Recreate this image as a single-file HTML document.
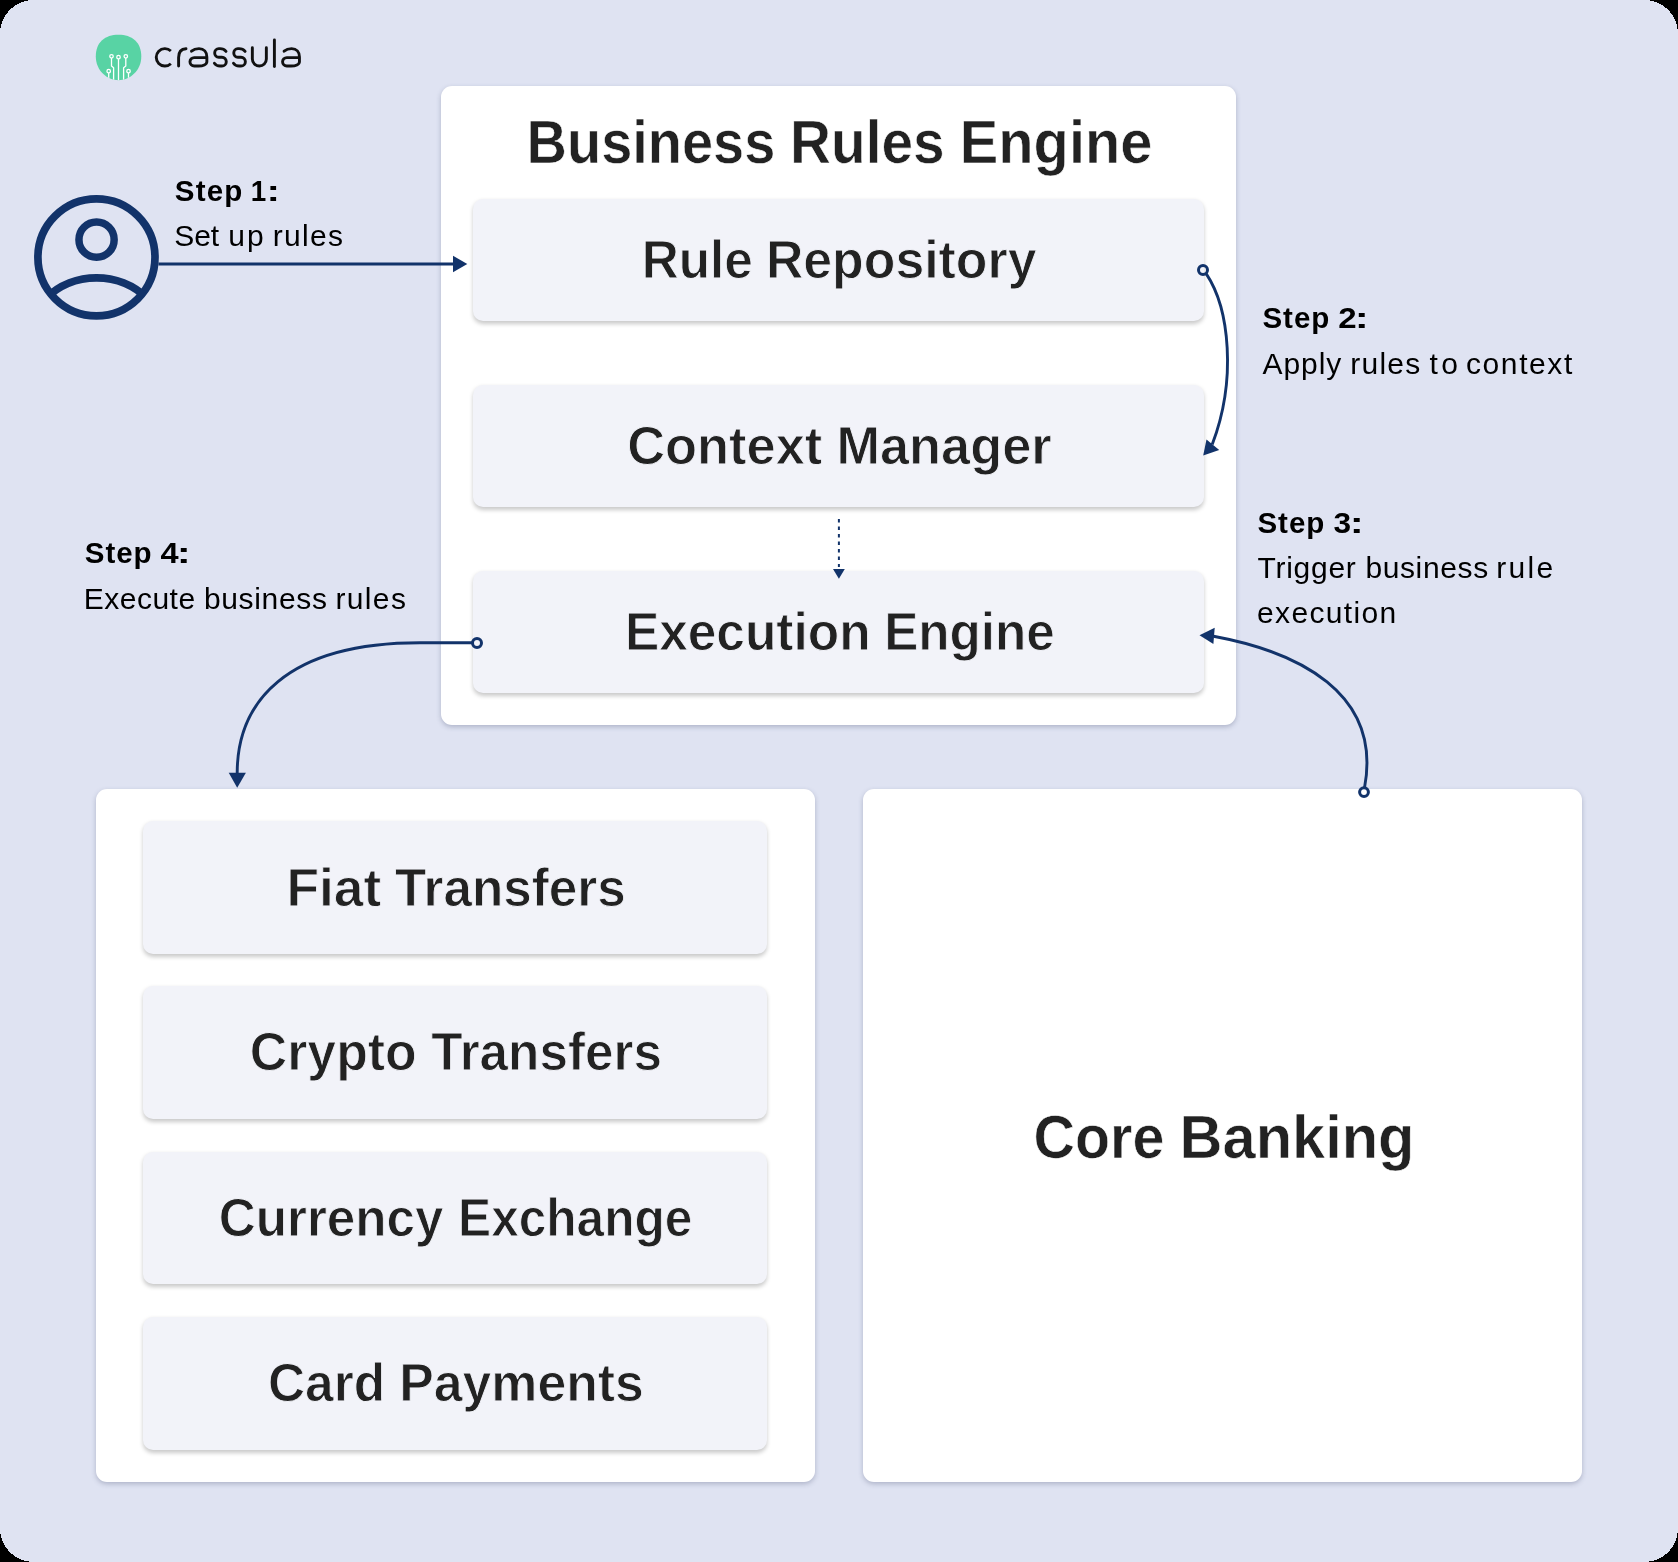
<!DOCTYPE html>
<html>
<head>
<meta charset="utf-8">
<title>Business Rules Engine</title>
<style>
  html, body { margin: 0; padding: 0; background: #000; }
  body { width: 1678px; height: 1562px; overflow: hidden; font-family: "Liberation Sans", sans-serif; }
  #page { position: absolute; left: 0; top: 0; width: 1678px; height: 1562px; overflow: hidden; }
  .panel { position: absolute; background: #fff; border-radius: 11px; box-shadow: 0 2px 5px rgba(70, 80, 115, 0.32); }
  .box { position: absolute; background: #f2f3f9; border-radius: 10px; box-shadow: 0 2.5px 4.5px rgba(0, 0, 0, 0.21); }
  #p-top { left: 441.2px; top: 86px; width: 795px; height: 639px; }
  #p-left { left: 96px; top: 789px; width: 719px; height: 693px; }
  #p-right { left: 863px; top: 789px; width: 719px; height: 693px; }
  .tb { left: 473.2px; width: 731.3px; height: 122px; }
  .lb { left: 143px; width: 624px; height: 132.5px; }
  svg { position: absolute; left: 0; top: 0; will-change: transform; }
  text { font-family: "Liberation Sans", sans-serif; }
  .h { font-weight: bold; fill: #222222; stroke: #f2f3f9; stroke-width: 0.9px; }
  .hw { font-weight: bold; fill: #222222; stroke: #ffffff; stroke-width: 0.6px; }
  .sb { font-weight: bold; fill: #000; }
  .sr { font-weight: normal; fill: #000; }
  .nv { stroke: #12336a; fill: none; }
  .nf { fill: #12336a; stroke: none; }
</style>
</head>
<body>
<div id="page">
  <svg id="bg" width="1678" height="1562" viewBox="0 0 1678 1562" style="will-change:auto"><rect x="0" y="0" width="1678" height="1562" rx="33.6" ry="33.6" fill="#dfe3f2" shape-rendering="crispEdges"/></svg>
  <div class="panel" id="p-top"></div>
  <div class="panel" id="p-left"></div>
  <div class="panel" id="p-right"></div>

  <div class="box tb" style="top:199px"></div>
  <div class="box tb" style="top:385px"></div>
  <div class="box tb" style="top:571px"></div>

  <div class="box lb" style="top:821px"></div>
  <div class="box lb" style="top:986.3px"></div>
  <div class="box lb" style="top:1151.7px"></div>
  <div class="box lb" style="top:1317px"></div>

  <svg id="art" width="1678" height="1562" viewBox="0 0 1678 1562">
    <defs>
      <clipPath id="uclip"><circle cx="96.45" cy="257.35" r="60"/></clipPath>
      <clipPath id="lclip"><path d="M118.5,34.7 C132,34.7 141.3,42 141.3,56.5 C141.3,70.5 130,80.2 118.5,80.2 C107,80.2 95.8,70.5 95.8,56.5 C95.8,42 105,34.7 118.5,34.7 Z"/></clipPath>
    </defs>

    <!-- logo mark -->
    <g id="logo-mark">
      <path fill="#58d3a4" d="M118.5,34.7 C132,34.7 141.3,42 141.3,56.5 C141.3,70.5 130,80.2 118.5,80.2 C107,80.2 95.8,70.5 95.8,56.5 C95.8,42 105,34.7 118.5,34.7 Z"/>
      <g clip-path="url(#lclip)" fill="none" stroke="#fff" stroke-width="1.3" stroke-linejoin="round">
        <circle cx="118.5" cy="57.2" r="1.75"/>
        <path d="M118.5,59 V81"/>
        <circle cx="111.5" cy="56.35" r="1.75"/>
        <path d="M111.5,58.1 V66 L113.6,67.7 V81"/>
        <circle cx="125.8" cy="56.35" r="1.75"/>
        <path d="M125.8,58.1 V66 L123.6,67.7 V81"/>
        <circle cx="108.7" cy="71.2" r="1.75"/>
        <path d="M108.7,73 V81"/>
        <circle cx="128.5" cy="71.2" r="1.75"/>
        <path d="M128.5,73 V81"/>
      </g>
    </g>

    <!-- logo word: crassula -->
    <g id="logo-word" fill="none" stroke="#111" stroke-width="2.9" stroke-linecap="round" stroke-linejoin="round">
      <path stroke-linecap="butt" d="M170.85,50.96 A8.7,8.7 0 1 0 170.85,63.74"/>
      <path d="M178.6,66.1 V57.5 C178.6,52 181.5,48.9 186,48.7"/>
      <g id="la">
        <path d="M191.5,51.2 C193.5,49.5 196,48.65 199,48.65 C204,48.65 206.85,52 206.85,57 V61.8 C206.85,64.5 203,66.05 198.5,66.05 H194.2 A4.22,4.22 0 0 1 194.2,57.6 H206.85"/>
      </g>
      <g id="ls">
        <path d="M226,51.4 C224.6,49.6 222.6,48.65 220,48.65 H218.8 A4.33,4.33 0 0 0 218.8,57.3 H221.9 A4.37,4.37 0 0 1 221.9,66.05 H220 C217.5,66.05 215.6,65 214.4,63.2"/>
      </g>
      <g transform="translate(19.1,0)"><path d="M226,51.4 C224.6,49.6 222.6,48.65 220,48.65 H218.8 A4.33,4.33 0 0 0 218.8,57.3 H221.9 A4.37,4.37 0 0 1 221.9,66.05 H220 C217.5,66.05 215.6,65 214.4,63.2"/></g>
      <path d="M252.35,47.8 V59 A7,7 0 0 0 266.35,59 V47.8"/>
      <path d="M274.4,40 V66.6"/>
      <g transform="translate(92.6,0)"><path d="M191.5,51.2 C193.5,49.5 196,48.65 199,48.65 C204,48.65 206.85,52 206.85,57 V61.8 C206.85,64.5 203,66.05 198.5,66.05 H194.2 A4.22,4.22 0 0 1 194.2,57.6 H206.85"/></g>
    </g>

    <!-- user icon -->
    <g id="user" class="nv" stroke-width="7.7">
      <circle cx="96.45" cy="257.35" r="58.55"/>
      <circle cx="96.55" cy="239.65" r="17.6" stroke-width="7.5"/>
      <circle cx="96.5" cy="351.1" r="73.3" clip-path="url(#uclip)"/>
    </g>

    <!-- step 1 arrow -->
    <path class="nv" stroke-width="2.8" d="M158.5,264 H455"/>
    <path class="nf" d="M453,255.8 L467.3,264 L453,272.2 Z"/>

    <!-- step 2 arrow -->
    <circle class="nv" stroke-width="3" cx="1203" cy="270" r="4.5"/>
    <path class="nv" stroke-width="2.9" d="M1206.3,273.9 C1229.4,308.5 1236.9,379.6 1212.2,444.6"/>
    <path class="nf" d="M1203.2,455.6 L1206.5,439.4 L1219.2,450 Z"/>

    <!-- dashed arrow -->
    <path class="nv" stroke-width="2" stroke-dasharray="3.6 3.9" d="M838.9,519 V567"/>
    <path class="nf" d="M833,568.9 H844.8 L838.9,578.8 Z"/>

    <!-- step 3 arrow -->
    <circle class="nv" stroke-width="3" cx="1364" cy="792.1" r="4.4"/>
    <path class="nv" stroke-width="2.9" d="M1364.6,787.3 C1382.3,692.2 1297.0,651.7 1213.5,636.2"/>
    <path class="nf" d="M1199.5,635.2 L1214.7,627.7 L1213.4,644.1 Z"/>

    <!-- step 4 arrow -->
    <circle class="nv" stroke-width="3" cx="477" cy="643" r="4.5"/>
    <path class="nv" stroke-width="2.9" d="M472,642.8 L420,642.8 C284.4,642.8 237.2,703.6 237.2,773"/>
    <path class="nf" d="M228.7,772.7 H245.9 L237.2,787.7 Z"/>

    <!-- TEXT -->
    <g id="labels">
      <text class="hw" x="526.6" y="163.4" font-size="61.3" textLength="248.7" lengthAdjust="spacingAndGlyphs">Business</text>
      <text class="hw" x="790.0" y="163.4" font-size="61.3" textLength="154.5" lengthAdjust="spacingAndGlyphs">Rules</text>
      <text class="hw" x="959.8" y="163.4" font-size="61.3" textLength="192.6" lengthAdjust="spacingAndGlyphs">Engine</text>
      <text class="h" x="641.7" y="278.1" font-size="54.3" textLength="111.2" lengthAdjust="spacingAndGlyphs">Rule</text>
      <text class="h" x="765.9" y="278.1" font-size="54.3" textLength="270.6" lengthAdjust="spacingAndGlyphs">Repository</text>
      <text class="h" x="627.2" y="463.8" font-size="54.3" textLength="195.1" lengthAdjust="spacingAndGlyphs">Context</text>
      <text class="h" x="836.4" y="463.8" font-size="54.3" textLength="215.3" lengthAdjust="spacingAndGlyphs">Manager</text>
      <text class="h" x="624.9" y="650.0" font-size="54.3" textLength="245.7" lengthAdjust="spacingAndGlyphs">Execution</text>
      <text class="h" x="884.2" y="650.0" font-size="54.3" textLength="170.5" lengthAdjust="spacingAndGlyphs">Engine</text>
      <text class="h" x="286.4" y="905.6" font-size="54.3" textLength="94.8" lengthAdjust="spacingAndGlyphs">Fiat</text>
      <text class="h" x="395.0" y="905.6" font-size="54.3" textLength="230.7" lengthAdjust="spacingAndGlyphs">Transfers</text>
      <text class="h" x="249.8" y="1070.2" font-size="54.3" textLength="166.9" lengthAdjust="spacingAndGlyphs">Crypto</text>
      <text class="h" x="431.2" y="1070.2" font-size="54.3" textLength="230.7" lengthAdjust="spacingAndGlyphs">Transfers</text>
      <text class="h" x="218.8" y="1235.5" font-size="54.3" textLength="224.7" lengthAdjust="spacingAndGlyphs">Currency</text>
      <text class="h" x="458.1" y="1235.5" font-size="54.3" textLength="234.2" lengthAdjust="spacingAndGlyphs">Exchange</text>
      <text class="h" x="268.0" y="1401.0" font-size="54.3" textLength="117.1" lengthAdjust="spacingAndGlyphs">Card</text>
      <text class="h" x="399.3" y="1401.0" font-size="54.3" textLength="244.5" lengthAdjust="spacingAndGlyphs">Payments</text>
      <text class="hw" x="1033.6" y="1158.1" font-size="61.3" textLength="130.7" lengthAdjust="spacingAndGlyphs">Core</text>
      <text class="hw" x="1179.5" y="1158.1" font-size="61.3" textLength="235.0" lengthAdjust="spacingAndGlyphs">Banking</text>
      <text class="sb" x="174.8" y="200.8" font-size="29.5" letter-spacing="1.17">Step</text>
      <text class="sb" x="250.7" y="200.8" font-size="29.5" textLength="15.5" lengthAdjust="spacingAndGlyphs">1</text>
      <text class="sb" x="266.4" y="200.8" font-size="29.5" textLength="13.5" lengthAdjust="spacingAndGlyphs">:</text>
      <text class="sr" x="174.2" y="246.0" font-size="30" letter-spacing="-0.05">Set</text>
      <text class="sr" x="228.3" y="246.0" font-size="30" letter-spacing="2.07">up</text>
      <text class="sr" x="272.8" y="246.0" font-size="30" letter-spacing="1.27">rules</text>
      <text class="sb" x="1262.5" y="328.4" font-size="29.5" letter-spacing="0.94">Step</text>
      <text class="sb" x="1338.2" y="328.4" font-size="29.5" textLength="18.4" lengthAdjust="spacingAndGlyphs">2</text>
      <text class="sb" x="1354.8" y="328.4" font-size="29.5" textLength="14.0" lengthAdjust="spacingAndGlyphs">:</text>
      <text class="sr" x="1262.6" y="374.0" font-size="30" letter-spacing="0.89">Apply</text>
      <text class="sr" x="1350.3" y="374.0" font-size="30" letter-spacing="1.22">rules</text>
      <text class="sr" x="1429.5" y="374.0" font-size="30" letter-spacing="3.47">to</text>
      <text class="sr" x="1466.0" y="374.0" font-size="30" letter-spacing="1.59">context</text>
      <text class="sb" x="1257.5" y="533.4" font-size="29.5" letter-spacing="0.94">Step</text>
      <text class="sb" x="1333.6" y="533.4" font-size="29.5" textLength="17.6" lengthAdjust="spacingAndGlyphs">3</text>
      <text class="sb" x="1349.8" y="533.4" font-size="29.5" textLength="14.0" lengthAdjust="spacingAndGlyphs">:</text>
      <text class="sr" x="1257.6" y="578.4" font-size="30" letter-spacing="0.71">Trigger</text>
      <text class="sr" x="1365.4" y="578.4" font-size="30" letter-spacing="0.62">business</text>
      <text class="sr" x="1496.3" y="578.4" font-size="30" letter-spacing="2.29">rule</text>
      <text class="sr" x="1257.0" y="623.2" font-size="30" letter-spacing="1.36">execution</text>
      <text class="sb" x="84.8" y="563.4" font-size="29.5" letter-spacing="0.97">Step</text>
      <text class="sb" x="160.6" y="563.4" font-size="29.5" textLength="18.1" lengthAdjust="spacingAndGlyphs">4</text>
      <text class="sb" x="176.8" y="563.4" font-size="29.5" textLength="14.0" lengthAdjust="spacingAndGlyphs">:</text>
      <text class="sr" x="83.7" y="608.6" font-size="30" letter-spacing="0.51">Execute</text>
      <text class="sr" x="203.9" y="608.6" font-size="30" letter-spacing="0.66">business</text>
      <text class="sr" x="335.4" y="608.6" font-size="30" letter-spacing="1.37">rules</text>
    </g>
  </svg>
</div>
</body>
</html>
